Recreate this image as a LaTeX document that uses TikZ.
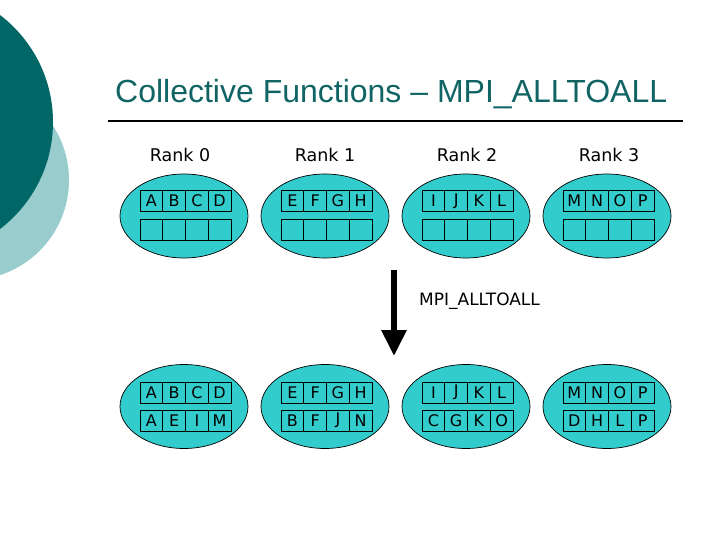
\documentclass[tikz,border=0pt]{standalone}
\usepackage{fontspec}
\newfontfamily\lib{Liberation Sans}
\newfontfamily\dv{DejaVu Sans}
\usetikzlibrary{shapes.geometric,arrows.meta}
\definecolor{darkteal}{RGB}{0,102,102}
\definecolor{lightteal}{RGB}{153,204,204}
\definecolor{titleteal}{RGB}{16,100,100}
\definecolor{turq}{RGB}{51,204,204}
\tikzset{
  ell/.style={ellipse,draw=black,line width=0.7pt,fill=turq,minimum width=128pt,minimum height=84pt,inner sep=0pt},
  cell/.style={draw=black,line width=0.8pt,minimum width=22.75pt,minimum height=21pt,inner sep=0pt,font=\dv\fontsize{16}{16}\selectfont},
  ranklbl/.style={font=\dv\fontsize{17.5}{18}\selectfont,inner sep=0pt},
  bigarrow/.style={line width=6pt,-{Triangle[width=24pt,length=26pt]}}
}
\begin{document}
\begin{tikzpicture}[x=1pt,y=-1pt]
\useasboundingbox (0,0) rectangle (720,540);
\clip (0,0) rectangle (720,540);
% decorative circles
\fill[lightteal] (-31,180) circle (100);
\fill[darkteal] (-81.5,122) circle (134.5);
% title
\node[anchor=base west,inner sep=0pt,text=titleteal,font=\lib\fontsize{32}{34}\selectfont] (title) at (115,103) {Collective Functions – MPI\_ALLTOALL};
\coordinate (rl) at (108,121);
\coordinate (rr) at (683,121);
\draw[line width=2pt] (rl) -- (rr);
% rank labels
\foreach \r/\x in {0/180,1/325,2/467,3/609}{
  \node[ranklbl] (rank\r) at (\x,155) {Rank \r};
}
% top ellipses
\foreach \r/\x/\row in {0/184/{A,B,C,D},1/325/{E,F,G,H},2/466/{I,J,K,L},3/607/{M,N,O,P}}{
  \node[ell] (te\r) at (\x,216) {};
  \foreach \l [count=\i from 0] in \row {
    \node[cell] (ta\r-\i) at ({\x+1.5+(\i-1.5)*22.75},201) {\l};
    \node[cell] (tb\r-\i) at ({\x+1.5+(\i-1.5)*22.75},230) {};
  }
}
% bottom ellipses
\foreach \r/\x/\rowa/\rowb in {0/184/{A,B,C,D}/{A,E,I,M},1/325/{E,F,G,H}/{B,F,J,N},2/466/{I,J,K,L}/{C,G,K,O},3/607/{M,N,O,P}/{D,H,L,P}}{
  \node[ell] (be\r) at (\x,406.5) {};
  \foreach \l [count=\i from 0] in \rowa {
    \node[cell] (ba\r-\i) at ({\x+1.5+(\i-1.5)*22.75},392.5) {\l};
  }
  \foreach \l [count=\i from 0] in \rowb {
    \node[cell] (bb\r-\i) at ({\x+1.5+(\i-1.5)*22.75},420.5) {\l};
  }
}
% arrow
\coordinate (atop) at (394,270);
\coordinate (abot) at (394,356);
\draw[bigarrow] (atop) -- (abot);
\node[anchor=west,inner sep=0pt,font=\dv\fontsize{17}{17}\selectfont] (lbl) at (419,301) {MPI\_ALLTOALL};
\end{tikzpicture}
\end{document}
